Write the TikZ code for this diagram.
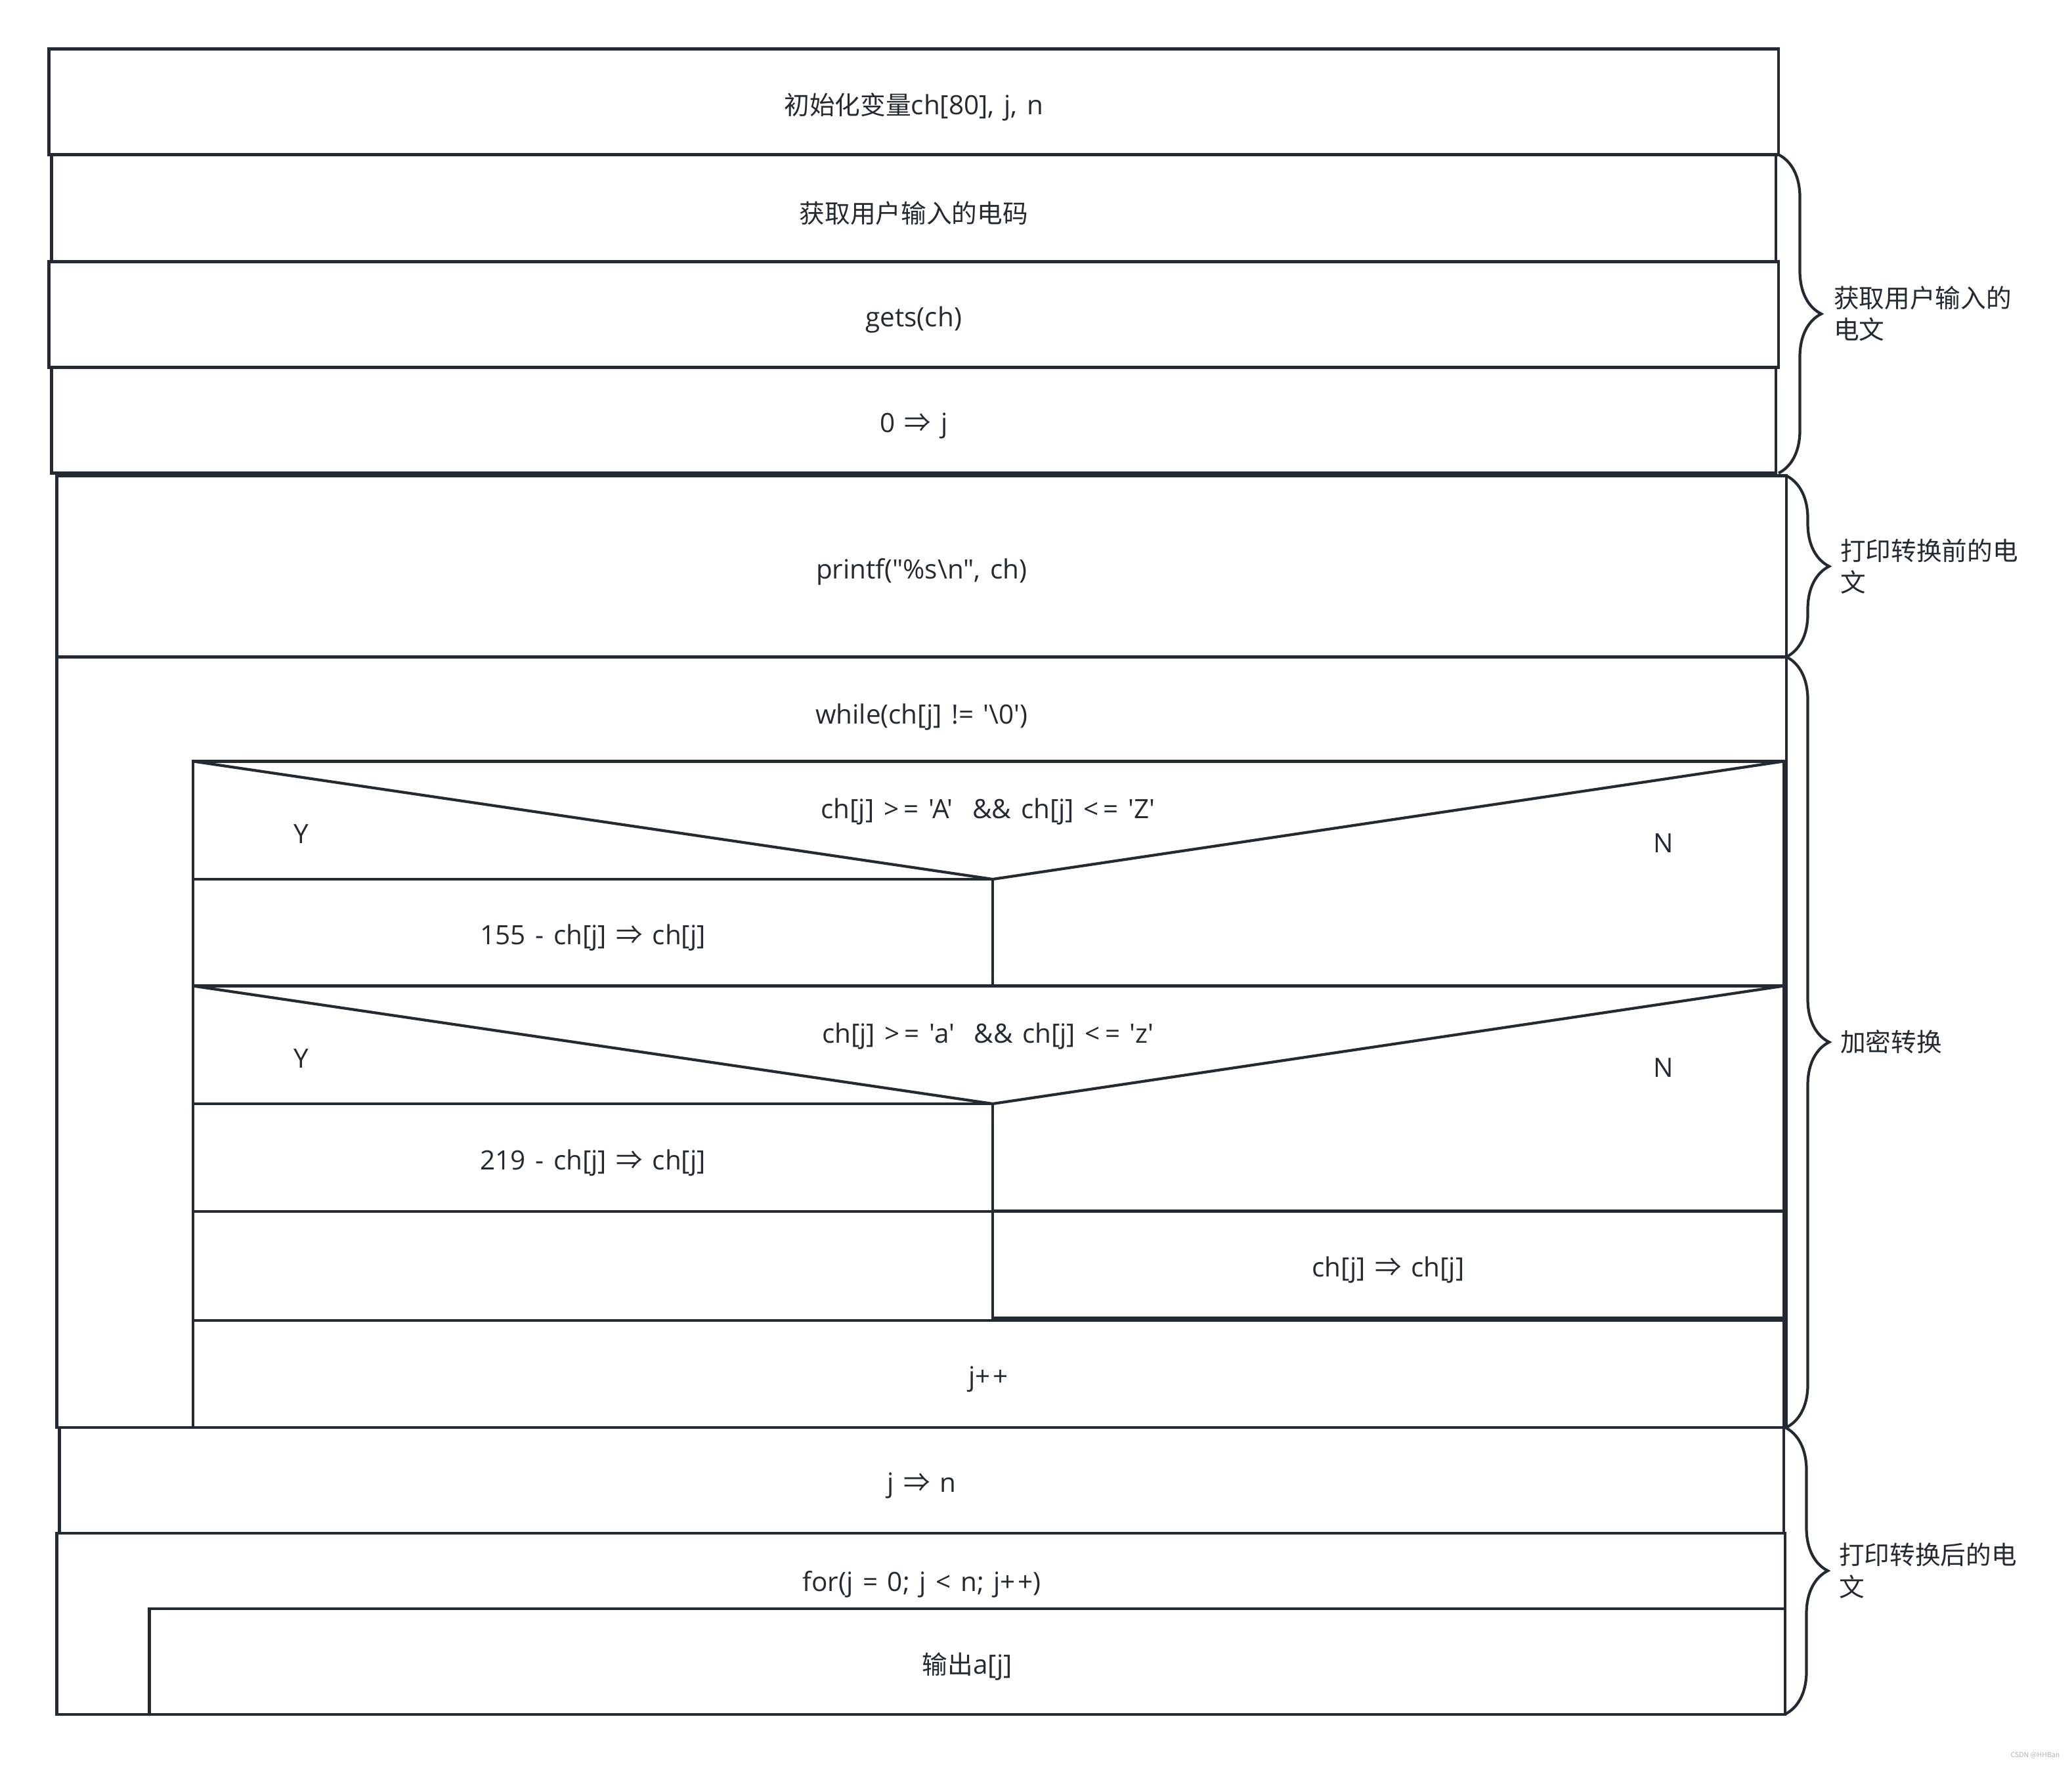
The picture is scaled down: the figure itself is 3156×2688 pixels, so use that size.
\documentclass[tikz,border=0pt]{standalone}
\usepackage{fontspec}
\newfontfamily\cjk{Noto Sans CJK SC}
\newfontfamily\lat{Open Sans}[WordSpace=1.4]
\usetikzlibrary{positioning,fit,decorations.pathreplacing}
\definecolor{ink}{HTML}{232A31}
\tikzset{blk/.style={draw=ink,line width=1.2pt,inner sep=0pt,outer sep=0pt},txt/.style={font=\lat\fontsize{11.5}{13.7}\selectfont,text=ink,inner sep=0pt},mid/.style={txt,yshift=-2.3pt},slim/.style={draw=ink,line width=.8pt},diag/.style={draw=ink,line width=1.2pt,line join=round},brc/.style={draw=ink,line width=1.2pt,decorate,decoration={brace,amplitude=.65cm}},note/.style={txt,font=\cjk\fontsize{11}{13.7}\selectfont,align=left},wm/.style={font=\cjk\fontsize{3}{4}\selectfont,text=gray!60,inner sep=0pt}}

\begin{document}
\begin{tikzpicture}[x=.01cm,y=-.01cm]
\fill[white] (0,0) rectangle (3156,2688);
\useasboundingbox (0,0) rectangle (3156,2688);
\foreach \nm/\xa/\ya/\xb/\yb/\txt in {init/74.5/74.5/2709/235.5/{{\cjk\fontsize{11}{13.7}\selectfont 初始化变量}ch[80], j, n},getin/78.5/235.5/2705/398.5/{\cjk\fontsize{11}{13.7}\selectfont 获取用户输入的电码},gets/74.5/398.5/2709/559.6/{gets(ch)},zero/78.5/559.6/2705/720.6/{0 {\cjk ⇒} j},prnt/86.5/724.6/2721/1000.4/{printf("\%s\textbackslash n", ch)}}{
  \node[blk,fit={(\xa,\ya) (\xb,\yb)},label={[mid]center:{\txt}}] (\nm) {};
}
\node[blk,fit={(86.5,1000.4) (2721,2173.8)}] (loop) {};
\node[txt] (cond) at (1404,1092) {while(ch[j] != '\textbackslash0')};
\node[blk,fit={(294,1159.4) (2717,1501.5)}] (ifu) {};
\draw[diag] (ifu.north west) -- (1512,1339) coordinate (tipu) -- (ifu.north east);
\node[blk,fit={(294,1339) (1512,1501.5)},label={[mid]center:{155 - ch[j] {\cjk ⇒} ch[j]}}] (subu) {};
\node[txt] (testu) at (1505,1236) {ch[j] >\kern2pt= 'A'\ \ \&\& ch[j] <\kern2pt= 'Z'};
\node[txt] (yu) at (459,1270) {Y};
\node[txt] (nu) at (2534,1284) {N};
\node[blk,fit={(294,1501.5) (2717,1845)}] (ifl) {};
\draw[diag] (ifl.north west) -- (1512,1681) coordinate (tipl) -- (ifl.north east);
\node[blk,fit={(294,1681) (1512,1845)},label={[mid]center:{219 - ch[j] {\cjk ⇒} ch[j]}}] (subl) {};
\node[txt] (testl) at (1505,1578) {ch[j] >\kern2pt= 'a'\ \ \&\& ch[j] <\kern2pt= 'z'};
\node[txt] (yl) at (459,1612) {Y};
\node[txt] (nl) at (2534,1626) {N};
\node[blk,fit={(294,1845) (1512,2010.8)}] (none) {};
\node[blk,fit={(1512,1844) (2717,2007)},label={[mid]center:{ch[j] {\cjk ⇒} ch[j]}}] (keep) {};
\node[blk,fit={(294,2010.8) (2717,2173.8)},label={[mid]center:{j+\kern1pt+}}] (inc) {};
\draw[slim] (tipu) -- (subu.north east);
\draw[slim] (tipl) -- (subl.north east);
\node[blk,fit={(90.6,2173.8) (2717,2334.8)},label={[mid]center:{j {\cjk ⇒} n}}] (setn) {};
\node[blk,fit={(86.5,2334.8) (2719,2610.6)}] (outl) {};
\node[txt] (fortxt) at (1404,2413) {for(j = 0; j < n; j+\kern1pt+)};
\node[blk,fit={(227.5,2449.6) (2719,2610.6)},label={[mid]center:{{\cjk\fontsize{11}{13.7}\selectfont 输出}a[j]}}] (outa) {};
\draw[brc] (gets.east |- getin.north) -- (gets.east |- zero.south) node[note,midway,right=.82cm] {获取用户输入的\\电文};
\draw[brc] (prnt.north east) -- (prnt.south east) node[note,midway,right=.8cm] {打印转换前的电\\文};
\draw[brc] (loop.north east) -- (loop.south east) node[note,midway,right=.8cm] {加密转换};
\draw[brc] (outl.east |- setn.north) -- (outl.south east) node[note,midway,right=.8cm] {打印转换后的电\\文};
\node[wm] (mark) at (3100,2673) {CSDN @HHBan};
\end{tikzpicture}
\end{document}
